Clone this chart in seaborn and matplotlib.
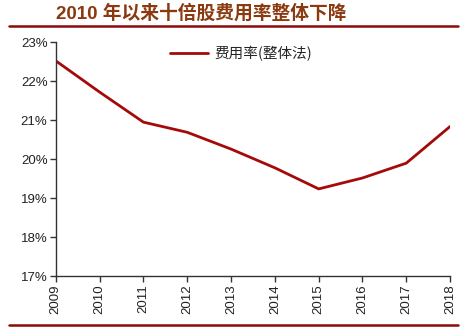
import matplotlib
matplotlib.use("Agg")
import matplotlib.pyplot as plt
import seaborn as sns
import pandas as pd
from matplotlib.lines import Line2D

years = [2009, 2010, 2011, 2012, 2013, 2014, 2015, 2016, 2017, 2018]
expense_ratio = [22.52, 21.72, 20.95, 20.69, 20.26, 19.78, 19.24, 19.52, 19.90, 20.84]
y_ticks = [17, 18, 19, 20, 21, 22, 23]
y_tick_labels = ["17%", "18%", "19%", "20%", "21%", "22%", "23%"]
series_name = "费用率(整体法)"
title_text = "2010 年以来十倍股费用率整体下降"

sns.set_style("white")
plt.rcParams['font.family'] = ['Liberation Sans', 'Noto Sans CJK SC', 'DejaVu Sans']

df = pd.DataFrame({"year": years, "value": expense_ratio, "series": series_name})

fig = plt.figure(figsize=(4.65, 3.29), dpi=100)
ax = fig.add_axes([0.120, 0.160, 0.848, 0.712])

sns.lineplot(data=df, x="year", y="value", ax=ax, color="#A50A0A", linewidth=2.0, legend=False)

ax.set_xlim(years[0], years[-1])
ax.set_ylim(17, 23)
ax.set_xticks(years)
ax.set_xticklabels([str(y) for y in years], rotation=90, fontsize=9.5, color="#222222")
ax.set_yticks(y_ticks)
ax.set_yticklabels(y_tick_labels, fontsize=9.5, color="#222222")
ax.set_xlabel("")
ax.set_ylabel("")

for s in ["top", "right"]:
    ax.spines[s].set_visible(False)
for s in ["left", "bottom"]:
    ax.spines[s].set_color("#333333")
    ax.spines[s].set_linewidth(1.0)
ax.tick_params(axis="both", direction="out", length=4, width=1.0, color="#333333", pad=2,
               left=True, bottom=True)

handle = Line2D([0], [0], color="#A50A0A", linewidth=2.0)
leg = ax.legend([handle], [series_name], loc="upper center", bbox_to_anchor=(0.47, 1.04),
                frameon=False, handlelength=2.6, handletextpad=0.5,
                prop={"family": ["Noto Sans CJK SC"], "size": 10.5})

fig.text(0.433, 0.958, title_text, ha="center", va="center", fontsize=13.5, fontweight="bold",
         color="#8B3A10", family=["Liberation Sans", "Noto Sans CJK SC"])

fig.add_artist(Line2D([0.02, 0.985], [0.922, 0.922], transform=fig.transFigure,
                      color="#8B0A0A", linewidth=1.8))
fig.add_artist(Line2D([0.02, 0.985], [0.012, 0.012], transform=fig.transFigure,
                      color="#8B0A0A", linewidth=1.8))

fig.savefig("out.png", dpi=100)
